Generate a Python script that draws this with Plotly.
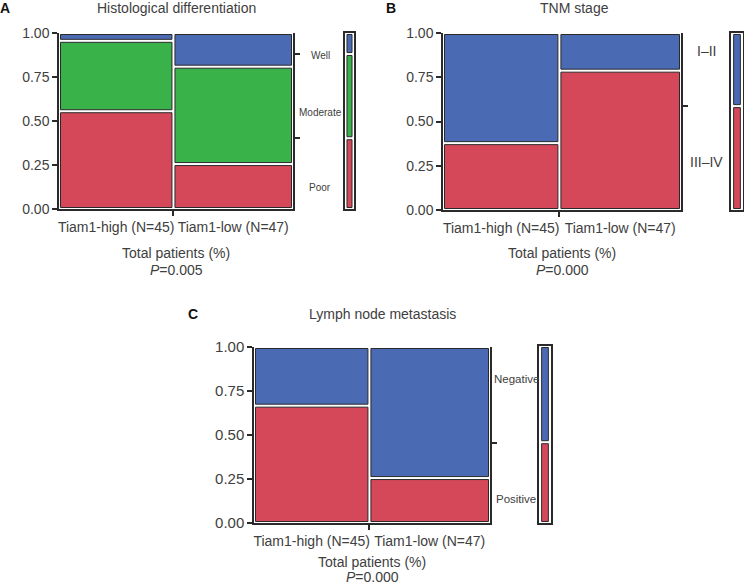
import plotly.graph_objects as go

W, H = 744, 585

# ---------------- data ----------------
groups = ["Tiam1-high (N=45)", "Tiam1-low (N=47)"]
group_n = [45, 47]

hist_levels = ["Poor", "Moderate", "Well"]
hist_counts = {"Poor": [25, 12], "Moderate": [18, 26], "Well": [2, 9]}
hist_label_pos = [0.12, 0.55, 0.875]

tnm_levels = ["III–IV", "I–II"]
tnm_counts = {"III–IV": [17, 37], "I–II": [28, 10]}
tnm_label_pos = [0.27, 0.90]

lnm_levels = ["Positive", "Negative"]
lnm_counts = {"Positive": [30, 12], "Negative": [15, 35]}
lnm_label_pos = [0.135, 0.82]

titles = ["Histological differentiation", "TNM stage", "Lymph node metastasis"]
panel_letters = ["A", "B", "C"]
p_values = ["0.005", "0.000", "0.000"]
y_ticks = [0, 0.25, 0.5, 0.75, 1.0]

# ---------------- style ----------------
RED, GREEN, BLUE = "#D4485A", "#3AB24A", "#4A6BB4"
level_colors = {"Poor": RED, "Moderate": GREEN, "Well": BLUE,
                "III–IV": RED, "I–II": BLUE, "Positive": RED, "Negative": BLUE}
EDGE = "#2a2a2a"
TXT = "#404040"
FONT = "Liberation Sans, Arial, sans-serif"

# pixel boxes in window coordinates: (x0, x1, ytop, ybottom)
panels = [
    dict(levels=hist_levels, counts=hist_counts, lab=hist_label_pos, lab_size=10,
         plot=(59, 293, 33, 209), leg=(345, 354, 33, 209), lab_x=320,
         title_xy=(176, 8), letter_xy=(5, 8), xlab_y=253, p_dy=17, tick_size=14),
    dict(levels=tnm_levels, counts=tnm_counts, lab=tnm_label_pos, lab_size=14,
         plot=(443, 681, 33, 210), leg=(731, 743, 33, 210), lab_x=706,
         title_xy=(574, 8), letter_xy=(391, 8), xlab_y=253, p_dy=17, tick_size=14),
    dict(levels=lnm_levels, counts=lnm_counts, lab=lnm_label_pos, lab_size=11.5,
         plot=(254, 490, 347, 523), leg=(539, 551, 346, 523), lab_x=516,
         title_xy=(382, 314), letter_xy=(193, 314), xlab_y=562, p_dy=15, tick_size=15),
]


def px_x(p):
    return p / W


def px_y(p):
    return 1 - p / H


fig = go.Figure()
layout = dict(width=W, height=H, margin=dict(l=0, r=0, t=0, b=0, autoexpand=False),
              plot_bgcolor="white", paper_bgcolor="white", showlegend=False,
              barmode="overlay", font=dict(family=FONT, color=TXT),
              annotations=[])

ax = 1
total_all = sum(group_n)
for pi, P in enumerate(panels):
    xm, ym, yr = ax, ax, ax + 1
    xl, yl = ax + 1, ax + 2
    ax += 3
    xm_n = "x" if xm == 1 else f"x{xm}"
    ym_n = "y" if ym == 1 else f"y{ym}"
    yr_n = f"y{yr}"
    xl_n, yl_n = f"x{xl}", f"y{yl}"

    x0, x1, yt, yb = P["plot"]
    pw, ph = x1 - x0, yb - yt
    gx, gy = 3.0 / pw, 3.0 / ph

    # group column boundaries
    bounds = [0]
    for n in group_n:
        bounds.append(bounds[-1] + n / total_all)
    centers = [(bounds[i] + bounds[i + 1]) / 2 for i in range(len(group_n))]
    widths = [(bounds[i + 1] - bounds[i]) - gx for i in range(len(group_n))]

    cum = [0.0] * len(group_n)
    for lev in P["levels"]:
        fr = [P["counts"][lev][i] / group_n[i] for i in range(len(group_n))]
        fig.add_trace(go.Bar(
            x=centers, y=[f - gy for f in fr], base=[c + gy / 2 for c in cum],
            width=widths, marker=dict(color=level_colors[lev], line=dict(color=EDGE, width=1)),
            xaxis=xm_n, yaxis=ym_n, hoverinfo="skip"))
        cum = [cum[i] + fr[i] for i in range(len(group_n))]

    # marginal proportions (legend bar + right ticks)
    marg = [sum(P["counts"][lev]) / total_all for lev in P["levels"]]
    mcum, mb = 0.0, []
    lgy = 3.0 / (P["leg"][3] - P["leg"][2])
    for lev, m in zip(P["levels"], marg):
        fig.add_trace(go.Bar(
            x=[0.5], y=[m - lgy], base=[mcum + lgy / 2], width=[0.56],
            marker=dict(color=level_colors[lev], line=dict(color=EDGE, width=1)),
            xaxis=xl_n, yaxis=yl_n, hoverinfo="skip"))
        mcum += m
        mb.append(mcum)
    right_ticks = mb[:-1]

    # dummy trace for right axis
    fig.add_trace(go.Scatter(x=[None], y=[None], xaxis=xm_n, yaxis=yr_n, showlegend=False))

    xdom = [px_x(x0), px_x(x1)]
    ydom = [px_y(yb), px_y(yt)]
    key = lambda a, k: (a if k == 1 else f"{a}{k}")
    layout[key("xaxis", xm)] = dict(
        domain=xdom, range=[0, 1], anchor=ym_n, showgrid=False, zeroline=False,
        showline=True, linecolor=EDGE, linewidth=1.5, automargin=False,
        tickmode="array", tickvals=centers, ticktext=groups,
        ticks="outside", ticklen=4, tickcolor="rgba(0,0,0,0)",
        tickfont=dict(size=14, color=TXT),
        minor=dict(tickmode="array", tickvals=[bounds[1]], ticks="outside",
                   ticklen=5, tickcolor=EDGE, tickwidth=1.5, showgrid=False),
        fixedrange=True)
    layout[key("yaxis", ym)] = dict(
        domain=ydom, range=[0, 1], anchor=xm_n, showgrid=False, zeroline=False,
        showline=True, linecolor=EDGE, linewidth=1.5, automargin=False,
        tickmode="array", tickvals=y_ticks, tickformat=".2f",
        ticks="outside", ticklen=5, tickcolor=EDGE, tickwidth=1.5,
        tickfont=dict(size=P["tick_size"], color=TXT), fixedrange=True)
    layout[key("yaxis", yr)] = dict(
        overlaying=ym_n, side="right", anchor=xm_n, range=[0, 1], automargin=False,
        showgrid=False, zeroline=False, showline=True, linecolor=EDGE, linewidth=1.5,
        tickmode="array", tickvals=right_ticks, ticktext=[""] * len(right_ticks),
        ticks="outside", ticklen=5, tickcolor=EDGE, tickwidth=1.5, fixedrange=True)

    lx0, lx1, lyt, lyb = P["leg"]
    layout[key("xaxis", xl)] = dict(
        domain=[px_x(lx0), min(px_x(lx1), 1.0)], range=[0, 1], anchor=yl_n,
        showgrid=False, zeroline=False, showticklabels=False, ticks="", automargin=False,
        showline=True, mirror=True, linecolor=EDGE, linewidth=1.5, fixedrange=True)
    layout[key("yaxis", yl)] = dict(
        domain=[px_y(lyb), px_y(lyt)], range=[0, 1], anchor=xl_n,
        showgrid=False, zeroline=False, showticklabels=False, ticks="", automargin=False,
        showline=True, mirror=True, linecolor=EDGE, linewidth=1.5, fixedrange=True)

    # right-side category labels
    for lev, pos in zip(P["levels"], P["lab"]):
        layout["annotations"].append(dict(
            text=lev, x=px_x(P["lab_x"]), xref="paper", y=pos, yref=yr_n,
            showarrow=False, xanchor="center", yanchor="middle",
            font=dict(size=P["lab_size"], color=TXT)))

    # titles
    tx, ty = P["title_xy"]
    layout["annotations"].append(dict(
        text=titles[pi], x=px_x(tx), y=px_y(ty), xref="paper", yref="paper",
        showarrow=False, xanchor="center", yanchor="middle",
        font=dict(size=14, color=TXT)))
    lx, ly = P["letter_xy"]
    layout["annotations"].append(dict(
        text=f"<b>{panel_letters[pi]}</b>", x=px_x(lx), y=px_y(ly), xref="paper", yref="paper",
        showarrow=False, xanchor="center", yanchor="middle",
        font=dict(size=14, color="#111")))
    cx = (x0 + x1) / 2
    layout["annotations"].append(dict(
        text="Total patients (%)", x=px_x(cx), y=px_y(P["xlab_y"]), xref="paper", yref="paper",
        showarrow=False, xanchor="center", yanchor="middle", font=dict(size=14, color=TXT)))
    layout["annotations"].append(dict(
        text=f"<i>P</i>={p_values[pi]}", x=px_x(cx), y=px_y(P["xlab_y"] + P["p_dy"]),
        xref="paper", yref="paper", showarrow=False, xanchor="center", yanchor="middle",
        font=dict(size=14, color=TXT)))

fig.update_layout(**layout)
# remove the page's default 8px body margin so the figure fills the window exactly
fig.write_html("out.html", config={"displayModeBar": False},
               post_script="document.body.style.margin='0';document.body.style.overflow='hidden';")
